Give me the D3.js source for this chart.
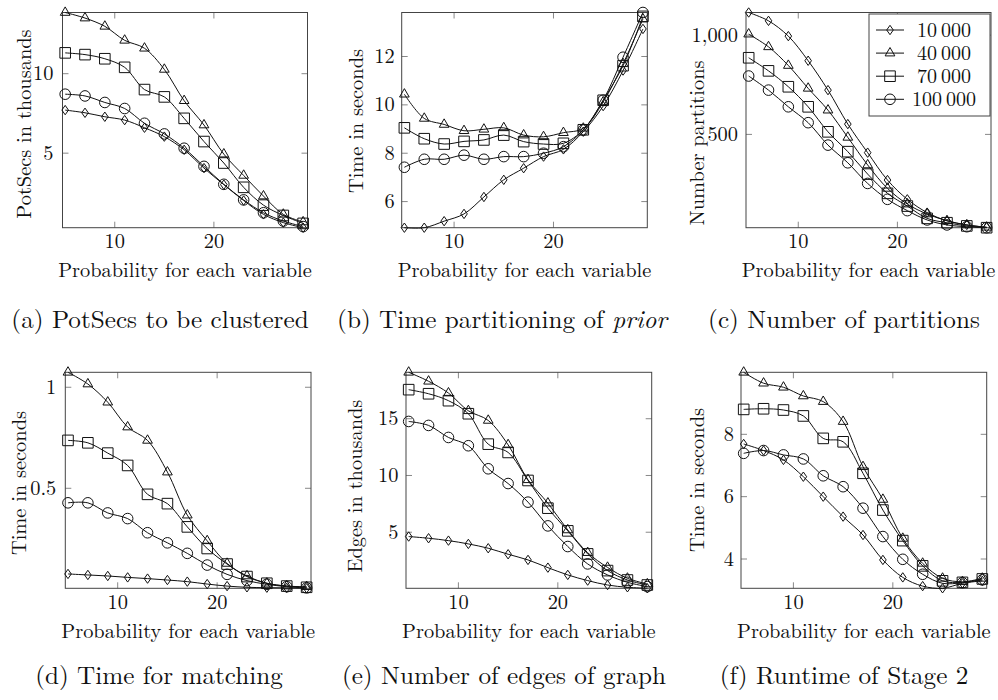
<!DOCTYPE html>
<html>
<head>
<meta charset="utf-8">
<script src="https://cdn.jsdelivr.net/npm/d3@7"></script>
<style>
  html, body { margin: 0; padding: 0; background: #fff; }
</style>
</head>
<body>
<svg id="chart" width="998" height="700"></svg>
<script>
// ---------- data ----------
const xValues = [5, 7, 9, 11, 13, 15, 17, 19, 21, 23, 25, 27, 29];
const seriesNames = ["10\u2009000", "40\u2009000", "70\u2009000", "100\u2009000"];
const seriesMarks = ["diamond", "triangle", "square", "circle"];
const xTicks = [10, 20];

// (a) PotSecs in thousands: 10000, 40000, 70000, 100000
const potSecs10k  = [7.71, 7.54, 7.29, 7.08, 6.60, 6.04, 5.21, 4.06, 3.02, 2.02, 1.15, 0.63, 0.31];
const potSecs40k  = [13.85, 13.50, 12.98, 12.10, 11.60, 10.27, 8.30, 6.77, 4.94, 3.60, 2.30, 1.15, 0.67];
const potSecs70k  = [11.31, 11.20, 10.94, 10.40, 9.00, 8.54, 7.19, 5.73, 4.38, 2.85, 1.73, 1.08, 0.58];
const potSecs100k = [8.71, 8.60, 8.19, 7.81, 6.88, 6.21, 5.31, 4.17, 3.04, 2.06, 1.25, 0.73, 0.38];
const potSecsTicks = [5, 10];

// (b) Time partitioning of prior, seconds
const prior10k  = [4.92, 4.92, 5.19, 5.49, 6.19, 6.90, 7.38, 7.86, 8.16, 8.89, 9.95, 11.42, 13.14];
const prior40k  = [10.44, 9.44, 9.19, 8.93, 8.99, 9.05, 8.75, 8.68, 8.85, 9.03, 10.12, 11.70, 13.55];
const prior70k  = [9.05, 8.60, 8.38, 8.49, 8.55, 8.75, 8.48, 8.38, 8.41, 8.97, 10.19, 11.62, 13.66];
const prior100k = [7.42, 7.75, 7.75, 7.92, 7.75, 7.86, 7.86, 8.00, 8.27, 8.96, 10.19, 11.97, 13.82];
const priorTicks = [6, 8, 10, 12];

// (c) Number of partitions
const parts10k  = [1114, 1072, 995, 871, 723, 552, 408, 270, 173, 106, 65, 44, 32];
const parts40k  = [1005, 941, 847, 732, 622, 485, 346, 228, 149, 99, 65, 44, 32];
const parts70k  = [886, 820, 740, 639, 513, 413, 300, 203, 139, 77, 55, 39, 30];
const parts100k = [794, 723, 639, 559, 446, 357, 253, 173, 116, 69, 44, 35, 30];
const partsTicks = [500, 1000];

// (d) Time for matching, seconds
const match10k  = [0.076, 0.071, 0.066, 0.059, 0.053, 0.046, 0.038, 0.026, 0.016, 0.010, 0.008, 0.007, 0.005];
const match40k  = [1.074, 1.016, 0.926, 0.803, 0.737, 0.580, 0.367, 0.240, 0.128, 0.066, 0.030, 0.016, 0.013];
const match70k  = [0.737, 0.725, 0.674, 0.613, 0.470, 0.424, 0.309, 0.202, 0.125, 0.063, 0.030, 0.016, 0.010];
const match100k = [0.428, 0.428, 0.378, 0.350, 0.280, 0.230, 0.178, 0.120, 0.074, 0.043, 0.025, 0.013, 0.007];
const matchTicks = [0.5, 1];

// (e) Edges in thousands
const edges10k  = [4.62, 4.47, 4.26, 3.97, 3.59, 3.06, 2.56, 1.88, 1.24, 0.74, 0.35, 0.15, 0.06];
const edges40k  = [19.09, 18.30, 17.26, 15.70, 14.85, 12.70, 9.62, 7.56, 5.20, 3.20, 1.90, 0.94, 0.44];
const edges70k  = [17.56, 17.20, 16.59, 15.44, 12.76, 12.03, 9.56, 7.12, 5.12, 3.09, 1.62, 0.79, 0.35];
const edges100k = [14.76, 14.41, 13.35, 12.62, 10.59, 9.29, 7.65, 5.56, 3.74, 2.21, 1.24, 0.59, 0.21];
const edgesTicks = [5, 10, 15];

// (f) Runtime of Stage 2, seconds
const stage10k  = [7.69, 7.48, 7.18, 6.64, 6.00, 5.36, 4.77, 3.97, 3.41, 3.13, 3.06, 3.22, 3.30];
const stage40k  = [9.99, 9.64, 9.51, 9.23, 9.05, 8.41, 6.96, 5.91, 4.66, 3.86, 3.38, 3.27, 3.38];
const stage70k  = [8.80, 8.82, 8.78, 8.59, 7.87, 7.76, 6.75, 5.57, 4.59, 3.78, 3.30, 3.25, 3.36];
const stage100k = [7.39, 7.48, 7.34, 7.21, 6.67, 6.32, 5.63, 4.72, 3.99, 3.51, 3.22, 3.24, 3.33];
const stageTicks = [4, 6, 8];

const xLabel = "Probability for each variable";

// ---------- layout ----------
const FONT = "Latin Modern Roman";
const FS = 20.4;      // tick / axis label size
const LEGFS = 20;     // legend size
const CAPFS = 25.2;   // caption size
const panels = [
  { series: [potSecs10k, potSecs40k, potSecs70k, potSecs100k], ticks: potSecsTicks, fmt: d3.format(""),
    ylabel: "PotSecs in thousands", caption: ["(a) PotSecs to be clustered"],
    left: 62.5, right: 307.5, top: 12.5, bottom: 227.7, ylabX: 31, ylabY: 124, tickGap: 9, capX: 160, capY: 328 },
  { series: [prior10k, prior40k, prior70k, prior100k], ticks: priorTicks, fmt: d3.format(""),
    ylabel: "Time in seconds", caption: ["(b) Time partitioning of ", "prior"],
    left: 401.7, right: 647.3, top: 12.5, bottom: 227.7, ylabX: 363, ylabY: 121, tickGap: 7, capX: 502, capY: 328 },
  { series: [parts10k, parts40k, parts70k, parts100k], ticks: partsTicks, fmt: d3.format(","),
    ylabel: "Number partitions", caption: ["(c) Number of partitions"],
    left: 746, right: 991, top: 12.5, bottom: 227.7, ylabX: 704, ylabY: 143, tickGap: 8, capX: 844, capY: 328, legend: true },
  { series: [match10k, match40k, match70k, match100k], ticks: matchTicks, fmt: d3.format(""),
    ylabel: "Time in seconds", caption: ["(d) Time for matching"],
    left: 65.3, right: 311, top: 372.3, bottom: 588.3, ylabX: 26, ylabY: 483, tickGap: 9, capX: 159, capY: 684 },
  { series: [edges10k, edges40k, edges70k, edges100k], ticks: edgesTicks, fmt: d3.format(""),
    ylabel: "Edges in thousands", caption: ["(e) Number of edges of graph"],
    left: 406, right: 651.7, top: 372.3, bottom: 588.3, ylabX: 362, ylabY: 486, tickGap: 7.5, capX: 504, capY: 684 },
  { series: [stage10k, stage40k, stage70k, stage100k], ticks: stageTicks, fmt: d3.format(""),
    ylabel: "Time in seconds", caption: ["(f) Runtime of Stage 2"],
    left: 741, right: 986.7, top: 372.3, bottom: 588.3, ylabX: 704, ylabY: 480, tickGap: 7, capX: 844, capY: 684 }
];

const svg = d3.select("#chart");
const TICK = 6;
const FRAME = "#444";
const TICKCOL = "#888";

function txt(sel) {
  return sel.append("text").attr("font-family", FONT).attr("fill", "#111");
}

function markerPath(type) {
  if (type === "circle") return d3.symbol().type(d3.symbolCircle).size(Math.PI * 5.3 * 5.3)();
  if (type === "square") return "M-5.3,-5.3H5.3V5.3H-5.3Z";
  if (type === "triangle") return "M0,-5.6L4.85,2.8L-4.85,2.8Z";
  return "M0,-4.7L3.3,0L0,4.7L-3.3,0Z";
}

panels.forEach(p => {
  const g = svg.append("g");
  const x = d3.scaleLinear().domain([4.73, 29.44]).range([p.left, p.right]);
  const all = p.series.flat();
  const y = d3.scaleLinear().domain(d3.extent(all)).range([p.bottom, p.top]);

  // ticks (inward, all four sides)
  const tg = g.append("g").attr("stroke", TICKCOL).attr("stroke-width", 1);
  xTicks.forEach(t => {
    tg.append("line").attr("x1", x(t)).attr("x2", x(t)).attr("y1", p.bottom).attr("y2", p.bottom - TICK);
    tg.append("line").attr("x1", x(t)).attr("x2", x(t)).attr("y1", p.top).attr("y2", p.top + TICK);
  });
  p.ticks.forEach(t => {
    tg.append("line").attr("x1", p.left).attr("x2", p.left + TICK).attr("y1", y(t)).attr("y2", y(t));
    tg.append("line").attr("x1", p.right).attr("x2", p.right - TICK).attr("y1", y(t)).attr("y2", y(t));
  });

  // frame
  g.append("rect").attr("x", p.left).attr("y", p.top)
    .attr("width", p.right - p.left).attr("height", p.bottom - p.top)
    .attr("fill", "none").attr("stroke", FRAME).attr("stroke-width", 1);

  // tick labels
  xTicks.forEach(t => {
    txt(g).attr("x", x(t)).attr("y", p.bottom + 20.5)
      .attr("text-anchor", "middle").attr("font-size", FS).text(t);
  });
  p.ticks.forEach(t => {
    txt(g).attr("x", p.left - p.tickGap).attr("y", y(t) + 6.6)
      .attr("text-anchor", "end").attr("font-size", FS).text(p.fmt(t));
  });

  // axis labels
  txt(g).attr("x", (p.left + p.right) / 2).attr("y", p.bottom + 49.6)
    .attr("text-anchor", "middle").attr("font-size", FS).text(xLabel);
  txt(g).attr("transform", `translate(${p.ylabX},${p.ylabY}) rotate(-90)`)
    .attr("text-anchor", "middle").attr("font-size", FS).text(p.ylabel);

  // caption
  const cap = txt(g).attr("x", p.capX).attr("y", p.capY)
    .attr("text-anchor", "middle").attr("font-size", CAPFS);
  cap.append("tspan").text(p.caption[0]);
  if (p.caption[1]) cap.append("tspan").attr("font-style", "italic").text(p.caption[1]);

  // series
  const line = d3.line().x((d, i) => x(xValues[i])).y(d => y(d)).curve(d3.curveCatmullRom.alpha(0.5));
  p.series.forEach((vals, si) => {
    g.append("path").datum(vals).attr("d", line)
      .attr("fill", "none").attr("stroke", "#111").attr("stroke-width", 1);
    g.append("g").selectAll("path").data(vals).join("path")
      .attr("transform", (d, i) => `translate(${x(xValues[i])},${y(d)})`)
      .attr("d", markerPath(seriesMarks[si]))
      .attr("fill", "none").attr("stroke", "#111").attr("stroke-width", 1);
  });

  // legend
  if (p.legend) {
    const lg = g.append("g");
    lg.append("rect").attr("x", 869).attr("y", 14).attr("width", 121).attr("height", 102)
      .attr("fill", "#fff").attr("stroke", FRAME).attr("stroke-width", 1);
    const rowY = d3.scalePoint().domain(seriesNames).range([30, 99.3]);
    seriesNames.forEach((name, si) => {
      const ry = rowY(name);
      lg.append("line").attr("x1", 876).attr("x2", 904).attr("y1", ry).attr("y2", ry)
        .attr("stroke", "#111").attr("stroke-width", 1);
      lg.append("path").attr("transform", `translate(890,${ry})`).attr("d", markerPath(seriesMarks[si]))
        .attr("fill", "none").attr("stroke", "#111").attr("stroke-width", 1);
      txt(lg).attr("x", 944).attr("y", ry + 6.6).attr("text-anchor", "middle")
        .attr("font-size", LEGFS).text(name);
    });
  }
});
</script>
</body>
</html>
